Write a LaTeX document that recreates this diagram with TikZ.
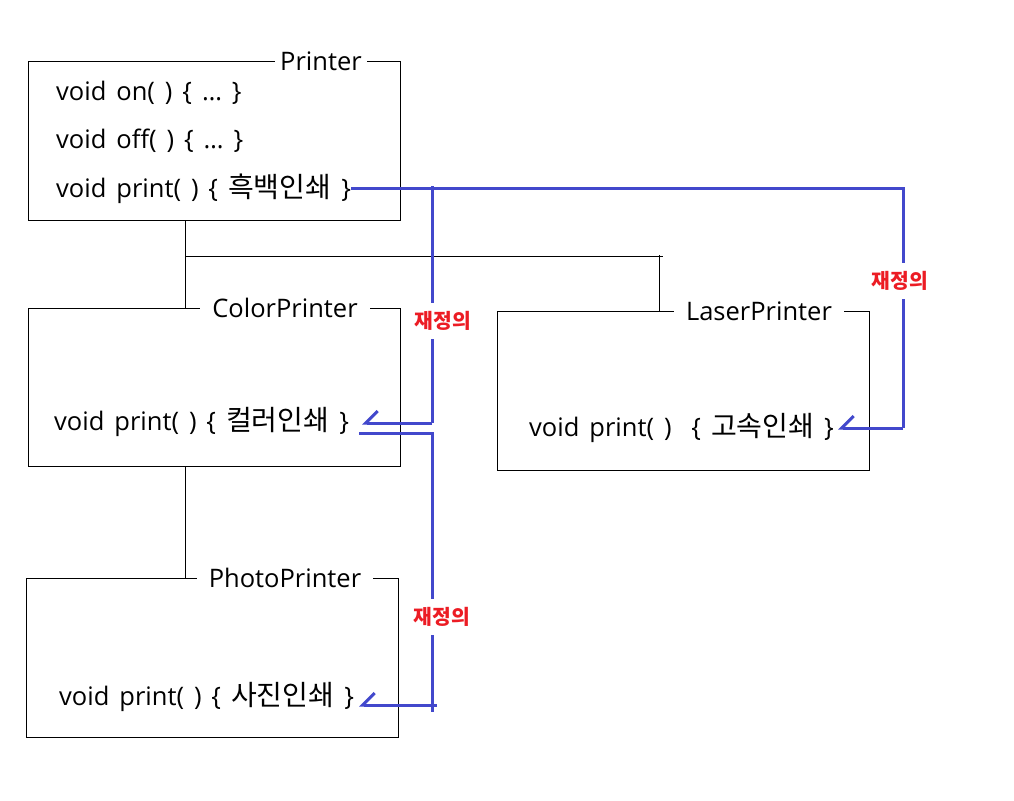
\documentclass[tikz,border=0pt]{standalone}
\usepackage{fontspec}
\setmainfont[WordSpace=1.5]{Open Sans}
\newfontfamily\kr[Scale=1.1]{Noto Sans CJK KR}
\usetikzlibrary{arrows.meta}
\definecolor{ovblue}{RGB}{66,72,204}
\definecolor{ovred}{RGB}{236,28,36}

\begin{document}
\begin{tikzpicture}[x=1pt, y=-1pt,
	classbox/.style={draw, line width=1pt, inner sep=0pt},
	classname/.style={fill=white, inner xsep=12pt, inner ysep=2pt, font=\fontsize{25.5}{28}\selectfont},
	method/.style={anchor=base west, inner sep=0pt, font=\fontsize{25.5}{28}\selectfont},
	override/.style={draw=ovblue, line width=3pt},
	redef/.style={fill=white, text=ovred, inner xsep=1pt, inner ysep=8pt, font=\kr\bfseries\fontsize{18.5}{21}\selectfont},
	tip/.style={-{Straight Barb[harpoon, swap, length=12pt, width=24pt]}}]
	%%%%% START %%%%%
	\useasboundingbox (0,0) rectangle (1014,800);

	% classes
	\node[classbox, minimum width=372, minimum height=159, anchor=north west] (printerbox) at (28,61) {};
	\node[classname, inner xsep=5pt] (printer) at (321,61) {Printer};
	\node[method] (on) at (56,100) {void on( ) \{ … \}};
	\node[method] (off) at (56,148) {void off( ) \{ … \}};
	\node[method] (bwprint) at (56,197) {void print( ) \{ {\kr 흑백인쇄} \}};

	\node[classbox, minimum width=372, minimum height=158, anchor=north west] (colorbox) at (28,308) {};
	\node[classname] (colorprinter) at (285,308) {ColorPrinter};
	\node[method] (colorprint) at (54,430) {void print( ) \{ {\kr 컬러인쇄} \}};

	\node[classbox, minimum width=372, minimum height=159, anchor=north west] (laserbox) at (497,311) {};
	\node[classname] (laserprinter) at (759,311) {LaserPrinter};
	\node[method] (laserprint) at (529,436) {void print( ) \ \{ {\kr 고속인쇄} \}};

	\node[classbox, minimum width=372, minimum height=159, anchor=north west] (photobox) at (26,578) {};
	\node[classname] (photoprinter) at (285,578) {PhotoPrinter};
	\node[method] (photoprint) at (59,705) {void print( ) \{ {\kr 사진인쇄} \}};

	% inheritance
	\coordinate (branch) at (185,256);
	\draw[line width=1pt] (branch |- printerbox.south) -- (branch |- colorbox.north);
	\draw[line width=1pt] (branch) -- (663,256);
	\draw[line width=1pt] (659,255) -- (659,0 |- laserbox.north);
	\draw[line width=1pt] (branch |- colorbox.south) -- (branch |- photobox.north);

	% overriding
	\coordinate (split) at (432,188);
	\draw[override] (bwprint.east |- split) -- (903,188) -- (903,428);
	\draw[override, tip] (903,428) -- (838,428);
	\draw[override] (432,186) -- (split) -- (432,423);
	\draw[override, tip] (432,423) -- (362,423);
	\draw[override] (359,433) -- (432,433) -- (432,712);
	\draw[override, tip] (437,705) -- (359,705);

	\node[redef] (redef1) at (900,281) {재정의};
	\node[redef] (redef2) at (443,321) {재정의};
	\node[redef] (redef3) at (442,617) {재정의};
	%%%%% END %%%%%
\end{tikzpicture}
\end{document}
